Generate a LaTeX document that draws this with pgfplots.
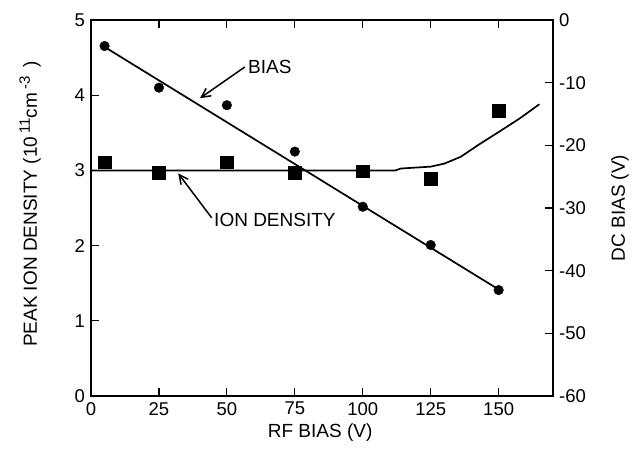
\documentclass[border=0pt]{standalone}
\usepackage{fontspec}
\setmainfont{Liberation Sans}
\usepackage{pgfplots}
\pgfplotsset{compat=1.18}
\usetikzlibrary{arrows.meta}
\begin{document}
\fontsize{18}{21}\selectfont
\begin{tikzpicture}[x=1pt,y=1pt]
\pgfplotsset{
  common/.style={
    scale only axis, width=462pt, height=376pt,
    at={(0,0)}, anchor=south west,
    xmin=0, xmax=170,
    tick align=inside, major tick length=8pt,
    tick style={line width=1.2pt, black},
    axis line style={line width=1.5pt},
    /pgf/number format/assume math mode=true,
    ticklabel style={font=\fontsize{18.5}{21}\selectfont},
    label style={font=\fontsize{19}{22}\selectfont},
  }
}
\begin{axis}[common,
  ymin=0, ymax=5,
  xtick={0,25,50,75,100,125,150},
  ytick={0,1,2,3,4,5},
  xtick pos=both, ytick pos=left,
  xticklabel pos=lower,
  xlabel={RF BIAS (V)},
  ylabel={PEAK ION DENSITY (10\,{\fontsize{15}{18}\selectfont\raisebox{7pt}{11}}cm\,{\fontsize{15}{18}\selectfont\raisebox{7pt}{-3}}\, )},
  xlabel style={at={(axis description cs:0.496,-0.096)}, anchor=center},
  ylabel style={at={(axis description cs:-0.132,0.51)}, anchor=center},
]
\addplot[black, line width=1.7pt] coordinates {
(0,3.0) (112,3.0) (114,3.025) (125,3.05) (130,3.09) (136,3.18) (143,3.35) (150,3.51) (157.7,3.69) (165,3.88)};
\addplot[only marks, mark=square*, mark size=6.3pt, black] coordinates {
(5,3.11) (25,2.97) (50,3.11) (75,2.97) (100,2.99) (125,2.89) (150,3.79)};
\draw[line width=1.5pt, -{Straight Barb[length=9pt,width=9pt,line width=1.5pt]}] (axis cs:56.6,4.375) -- (axis cs:40.1,3.96);
\node[anchor=west, inner sep=1pt, font=\fontsize{19}{22}\selectfont] at (axis cs:57.4,4.375) {BIAS};
\draw[line width=1.5pt, -{Straight Barb[length=9pt,width=9pt,line width=1.5pt]}] (axis cs:44.4,2.37) -- (axis cs:32.1,2.96);
\node[anchor=west, inner sep=1pt, font=\fontsize{19}{22}\selectfont] at (axis cs:44.9,2.34) {ION DENSITY};
\end{axis}
\begin{axis}[common,
  ymin=-60, ymax=0,
  axis x line=none,
  axis y line*=right,
  ytick={-60,-50,-40,-30,-20,-10,0},
  yticklabels={-60,-50,-40,-30,-20,-10,0},
  ylabel={DC BIAS (V)},
  ylabel style={at={(axis description cs:1.145,0.5)}, anchor=center},
]
\addplot[black, line width=1.7pt] coordinates {(5,-4.3) (150,-43.0)};
\addplot[only marks, mark=*, mark size=4.8pt, black] coordinates {
(5,-4.15) (25,-10.8) (50,-13.6) (75,-21.0) (100,-29.8) (125,-35.9) (150,-43.1)};
\end{axis}
\useasboundingbox (-91,-57) rectangle (548,396);
\end{tikzpicture}
\end{document}
